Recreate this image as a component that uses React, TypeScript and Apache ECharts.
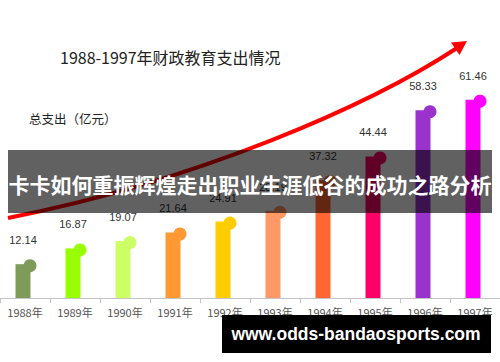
import React, { useEffect, useRef } from "react";
import * as echarts from "echarts";

const years = ["1988年", "1989年", "1990年", "1991年", "1992年", "1993年", "1994年", "1995年", "1996年", "1997年"];
const spending = [12.14, 16.87, 19.07, 21.64, 24.91, 28.19, 37.32, 44.44, 58.33, 61.46];
const barColors = ["#7f9b5a", "#99ff00", "#ccff66", "#ff9933", "#ffcc00", "#ff9966", "#ff6633", "#ff0066", "#9933cc", "#ff00ff"];
const chartTitle = "1988-1997年财政教育支出情况";
const unitLabel = "总支出（亿元）";
const bannerText = "卡卡如何重振辉煌走出职业生涯低谷的成功之路分析";
const siteText = "www.odds-bandaosports.com";

export default function App() {
  const ref = useRef<HTMLDivElement>(null);
  useEffect(() => {
    if (!ref.current) return;
    const chart = echarts.init(ref.current, null, { renderer: "svg" });
    const option: any = {
      animation: false,
      backgroundColor: "#ffffff",
      grid: { left: -12, right: -1, top: 4.5, bottom: 64 },
      xAxis: {
        type: "category",
        data: years,
        boundaryGap: true,
        axisLine: { show: true, lineStyle: { color: "#c4c4c4", width: 1 } },
        axisTick: { show: true, length: 5, lineStyle: { color: "#c4c4c4" } },
        axisLabel: { color: "#555", fontSize: 11, margin: 8, fontFamily: "Noto Sans CJK SC" },
        splitLine: { show: false },
      },
      yAxis: { type: "value", min: 2, max: 90, show: false, splitLine: { show: false } },
      series: [
        {
          type: "custom",
          data: spending.map((v, i) => [i, v]),
          renderItem: (params: any, api: any) => {
            const idx = api.value(0);
            const val = api.value(1);
            const top = api.coord([idx, val]);
            const base = api.coord([idx, 2]);
            const c = top[0];
            const color = barColors[params.dataIndex];
            return {
              type: "group",
              children: [
                {
                  type: "rect",
                  shape: { x: c - 9.5, y: top[1], width: 15, height: base[1] - top[1] },
                  style: { fill: color },
                },
                {
                  type: "circle",
                  shape: { cx: c + 5, cy: top[1] + 1.5, r: 6.5 },
                  style: { fill: color },
                },
                {
                  type: "text",
                  x: c - 2,
                  y: top[1] - 24,
                  style: {
                    text: String(spending[params.dataIndex].toFixed(2)),
                    fill: "#333",
                    fontSize: 11,
                    fontFamily: "Liberation Sans",
                    align: "center",
                    verticalAlign: "middle",
                  },
                },
              ],
            };
          },
        },
      ],
      graphic: [
        {
          type: "text",
          x: 60,
          y: 57,
          z: 20,
          style: {
            text: chartTitle,
            fill: "#222",
            font: "16px 'Noto Sans CJK SC'",
            textAlign: "left",
            align: "left",
            textVerticalAlign: "middle",
            verticalAlign: "middle",
          },
        },
        {
          type: "text",
          x: 29,
          y: 118,
          z: 20,
          style: {
            text: unitLabel,
            fill: "#222",
            font: "12.5px 'Noto Sans CJK SC'",
            textAlign: "left",
            align: "left",
            textVerticalAlign: "middle",
            verticalAlign: "middle",
          },
        },
        {
          type: "bezierCurve",
          z: 30,
          shape: { x1: 8, y1: 218, cpx1: 200, cpy1: 180, cpx2: 370, cpy2: 105, x2: 457, y2: 48 },
          style: { stroke: "#ff0000", lineWidth: 4, fill: null },
        },
        {
          type: "polygon",
          z: 30,
          shape: { points: [[467, 41], [451, 42.5], [459.5, 55]] },
          style: { fill: "#ff0000" },
        },
        {
          type: "rect",
          z: 100,
          shape: { x: 8, y: 150, width: 484, height: 63 },
          style: { fill: "rgba(0,0,0,0.62)" },
        },
        {
          type: "text",
          x: 250,
          y: 184,
          z: 101,
          style: {
            text: bannerText,
            fill: "#ffffff",
            font: "bold 21px 'Noto Sans CJK SC'",
            textAlign: "center",
            align: "center",
            textVerticalAlign: "middle",
            verticalAlign: "middle",
          },
        },
        {
          type: "rect",
          z: 100,
          shape: { x: 222, y: 315, width: 269, height: 38 },
          style: { fill: "#000000" },
        },
        {
          type: "text",
          x: 356,
          y: 334,
          z: 101,
          style: {
            text: siteText,
            fill: "#ffffff",
            font: "bold 17.5px 'Liberation Sans'",
            textAlign: "center",
            align: "center",
            textVerticalAlign: "middle",
            verticalAlign: "middle",
          },
        },
      ],
    };
    chart.setOption(option);
    return () => chart.dispose();
  }, []);
  return (
    <div
      ref={ref}
      style={{ position: "fixed", left: 0, top: 0, width: 500, height: 362 }}
    />
  );
}
